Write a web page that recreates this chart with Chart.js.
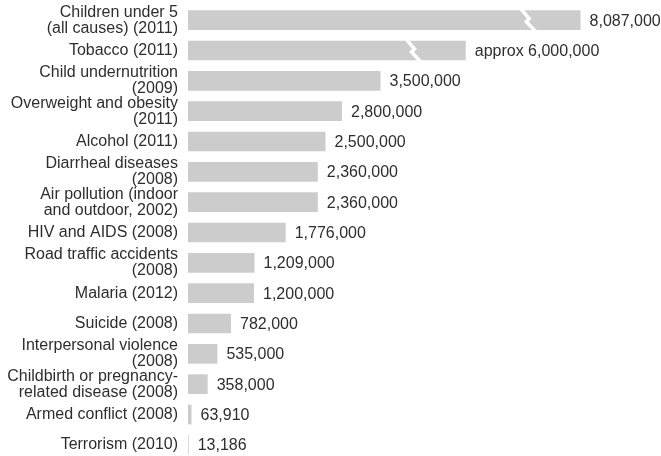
<!DOCTYPE html>
<html>
<head>
<meta charset="utf-8">
<title>Deaths per year by cause</title>
<script src="https://cdn.jsdelivr.net/npm/chart.js@4.4.1/dist/chart.umd.min.js"></script>
<style>
    html, body { margin: 0; padding: 0; background: #fff; overflow: hidden; }
    #wrap { width: 661px; height: 460px; position: relative; }
</style>
</head>
<body>
<div id="wrap"><canvas id="causesChart"></canvas></div>
<script>
// Causes of death (multi-line labels as arrays)
const causes = [
    ['Children under 5', '(all causes) (2011)'],
    ['Tobacco (2011)'],
    ['Child undernutrition', '(2009)'],
    ['Overweight and obesity', '(2011)'],
    ['Alcohol (2011)'],
    ['Diarrheal diseases', '(2008)'],
    ['Air pollution (indoor', 'and outdoor, 2002)'],
    ['HIV and AIDS (2008)'],
    ['Road traffic accidents', '(2008)'],
    ['Malaria (2012)'],
    ['Suicide (2008)'],
    ['Interpersonal violence', '(2008)'],
    ['Childbirth or pregnancy-', 'related disease (2008)'],
    ['Armed conflict (2008)'],
    ['Terrorism (2010)']
];

const deaths = [8087000, 6000000, 3500000, 2800000, 2500000, 2360000, 2360000,
    1776000, 1209000, 1200000, 782000, 535000, 358000, 63910, 13186];

const valueLabels = ['8,087,000', 'approx 6,000,000', '3,500,000', '2,800,000', '2,500,000',
    '2,360,000', '2,360,000', '1,776,000', '1,209,000', '1,200,000', '782,000',
    '535,000', '358,000', '63,910', '13,186'];

// Bars longer than this are drawn with a broken axis
const breakFrom = 4000000;
const breakGap = 950000;

const plotted = deaths.map(v => v > breakFrom ? v - breakGap : v);

const FONT = '"Liberation Sans", Arial, Helvetica, sans-serif';
const TEXT = '#2e2e2e';
const BAR = '#cccccc';

// Value labels + the white zigzag on broken bars
const barLabels = {
    id: 'barLabels',
    afterDatasetsDraw(chart) {
        const ctx = chart.ctx;
        const xScale = chart.scales.x;
        const meta = chart.getDatasetMeta(0);
        ctx.save();
        meta.data.forEach((bar, i) => {
            const top = bar.y - bar.height / 2;
            const bottom = bar.y + bar.height / 2;

            if (deaths[i] > breakFrom) {
                const bx = xScale.getPixelForValue(plotted[i] - 950000);
                const mid = (top + bottom) / 2;
                ctx.strokeStyle = '#ffffff';
                ctx.lineWidth = 3.5;
                ctx.beginPath();
                ctx.moveTo(bx - 7, top - 1);
                ctx.lineTo(bx + 1, mid - 1.5);
                ctx.lineTo(bx - 2, mid + 1.5);
                ctx.lineTo(bx + 7, bottom + 1);
                ctx.stroke();
            }

            ctx.fillStyle = TEXT;
            ctx.font = '16px ' + FONT;
            ctx.textAlign = 'left';
            ctx.textBaseline = 'middle';
            ctx.fillText(valueLabels[i], bar.x + 9, bar.y + 1);
        });
        ctx.restore();
    }
};

new Chart(document.getElementById('causesChart'), {
    type: 'bar',
    data: {
        labels: causes,
        datasets: [{
            data: plotted,
            backgroundColor: BAR,
            borderWidth: 0,
            barPercentage: 0.65,
            categoryPercentage: 1
        }]
    },
    options: {
        indexAxis: 'y',
        responsive: true,
        maintainAspectRatio: false,
        animation: false,
        layout: { padding: { top: 5, right: 0, bottom: 0, left: 0 } },
        scales: {
            x: {
                display: false,
                min: 0,
                max: 8600000
            },
            y: {
                grid: { display: false, drawTicks: false },
                border: { display: false },
                afterFit(scale) {
                    scale.width = 188;
                    scale.paddingTop = 0;
                    scale.paddingBottom = 0;
                },
                ticks: {
                    autoSkip: false,
                    padding: 10,
                    color: TEXT,
                    font: { family: FONT, size: 16, lineHeight: 1.0 }
                }
            }
        },
        plugins: {
            legend: { display: false },
            tooltip: { enabled: false }
        }
    },
    plugins: [barLabels]
});
</script>
</body>
</html>
